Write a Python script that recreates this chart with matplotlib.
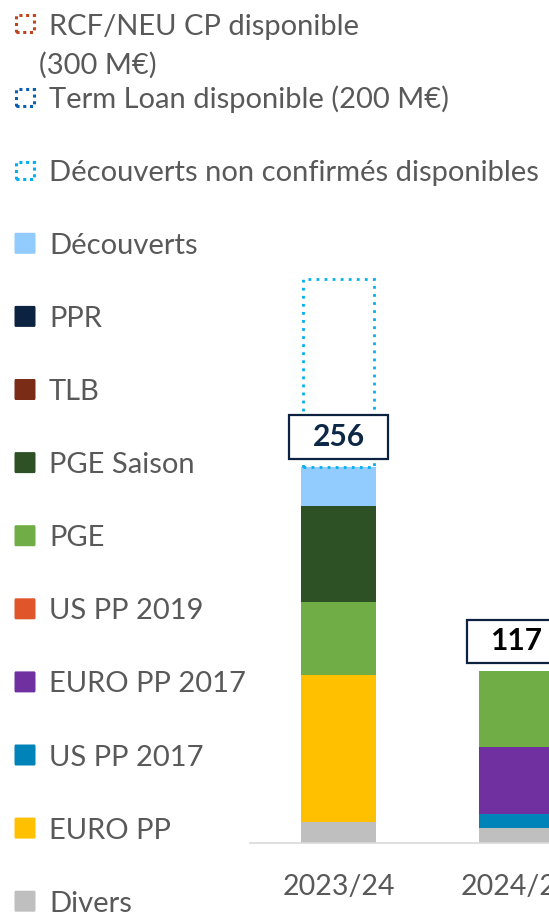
import matplotlib
matplotlib.use('Agg')
import matplotlib.pyplot as plt
from matplotlib.patches import Rectangle, FancyBboxPatch
import numpy as np

# ---------------- data ----------------
categories = ['2023/24', '2024/25']
divers = [14, 10]
euro_pp = [100, 0]
us_pp_2017 = [0, 10]
euro_pp_2017 = [0, 45]
us_pp_2019 = [0, 0]
pge = [50, 52]
pge_saison = [65, 0]
tlb = [0, 0]
ppr = [0, 0]
decouverts = [27, 0]
decouverts_nc_dispo = [128, 0]
term_loan_dispo = [0, 0]
rcf_dispo = [0, 0]
total_labels = ['256', '117']

plt.rcParams['font.family'] = ['Lato', 'DejaVu Sans']

W, H = 549, 913
fig = plt.figure(figsize=(W / 100, H / 100), dpi=100)

def fx(px):
    return px / W

def fy(py):
    return 1 - py / H

# ---------------- bars ----------------
ax = fig.add_axes([249.5 / W, 70 / H, (W - 249.5) / W, 588 / H])
x = np.arange(len(categories))
width = 0.42

solid = [
    (divers, 'Divers', '#BFBFBF'),
    (euro_pp, 'EURO PP', '#FFC000'),
    (us_pp_2017, 'US PP 2017', '#0083B8'),
    (euro_pp_2017, 'EURO PP 2017', '#7030A0'),
    (us_pp_2019, 'US PP 2019', '#E0552A'),
    (pge, 'PGE', '#70AD47'),
    (pge_saison, 'PGE Saison', '#2D5025'),
    (tlb, 'TLB', '#7B2C16'),
    (ppr, 'PPR', '#0B2340'),
    (decouverts, 'Découverts', '#92CCFF'),
]
dotted = [
    (decouverts_nc_dispo, 'Découverts non confirmés disponibles', '#00B0F0'),
    (term_loan_dispo, 'Term Loan disponible (200 M€)', '#0A5FB4'),
    (rcf_dispo, 'RCF/NEU CP disponible', '#C0451E'),
]

bottom = np.zeros(len(categories))
for vals, name, col in solid:
    v = np.array(vals, dtype=float)
    ax.bar(x, v, width, bottom=bottom, color=col, linewidth=0, zorder=2)
    bottom += v
totals = bottom.copy()
for vals, name, col in dotted:
    v = np.array(vals, dtype=float)
    m = v > 0
    if m.any():
        ax.bar(x[m], v[m], width * 0.96, bottom=bottom[m], fill=False,
               edgecolor=col, linestyle=(0, (1, 1.9)), linewidth=2.0, zorder=3)
    bottom += v

# total label boxes
bw, bh, gap = 0.556, 29.5, 5.5
for i, lab in enumerate(total_labels):
    ax.add_patch(Rectangle((x[i] - bw / 2, totals[i] + gap), bw, bh,
                           facecolor='white', edgecolor='#0B2341', linewidth=1.6,
                           zorder=5, clip_on=False))
    ax.text(x[i], totals[i] + gap + bh / 2, lab, ha='center', va='center',
            fontsize=21.5, fontweight='bold',
            color='#0D2847' if i == 0 else '#000000', zorder=6)

ax.set_xlim(-0.5, (549 - 338.5) / 178)
ax.set_ylim(0, 400)
for s in ['top', 'right', 'left']:
    ax.spines[s].set_visible(False)
ax.spines['bottom'].set_color('#D9D9D9')
ax.spines['bottom'].set_linewidth(1.2)
ax.set_yticks([])
ax.set_xticks(x)
ax.set_xticklabels(categories)
ax.tick_params(axis='x', length=0, pad=22, labelsize=20.5, labelcolor='#595959')

# ---------------- legend ----------------
legend_items = [
    ('RCF/NEU CP disponible', '#C0451E', True),
    ('Term Loan disponible (200 M€)', '#0A5FB4', True),
    ('Découverts non confirmés disponibles', '#00B0F0', True),
    ('Découverts', '#92CCFF', False),
    ('PPR', '#0B2340', False),
    ('TLB', '#7B2C16', False),
    ('PGE Saison', '#2D5025', False),
    ('PGE', '#70AD47', False),
    ('US PP 2019', '#E0552A', False),
    ('EURO PP 2017', '#7030A0', False),
    ('US PP 2017', '#0083B8', False),
    ('EURO PP', '#FFC000', False),
    ('Divers', '#BFBFBF', False),
]
y0, step = 24, 73.1
for i, (name, col, dot) in enumerate(legend_items):
    yc = y0 + step * i
    if dot:
        fig.patches.append(Rectangle((fx(15.8), fy(yc + 8.5)), fx(18.5), 17 / H,
                                     transform=fig.transFigure, fill=False,
                                     edgecolor=col, linewidth=2.2,
                                     linestyle=(0, (1, 1.2))))
    else:
        fig.patches.append(FancyBboxPatch((fx(14.5), fy(yc + 10.5)), fx(21), 21 / H,
                                          boxstyle='round,pad=0,rounding_size=0.002',
                                          transform=fig.transFigure,
                                          facecolor=col, edgecolor='none'))
    fig.text(fx(49), fy(yc), name, ha='left', va='center_baseline',
             fontsize=21, color='#595959')
fig.text(fx(39), fy(63), '(300 M€)', ha='left', va='center_baseline',
         fontsize=21, color='#595959')

fig.savefig('out.png', dpi=100)
